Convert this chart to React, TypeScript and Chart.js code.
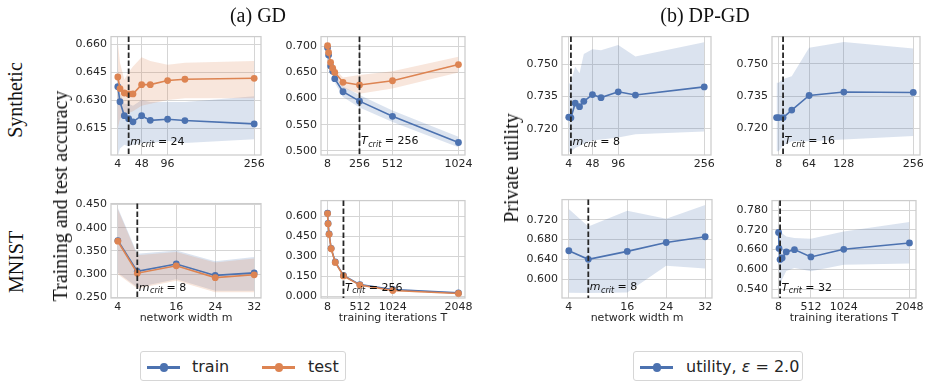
import React, { useEffect, useRef } from 'react';
import { Chart, registerables } from 'chart.js';

Chart.register(...registerables);

// ---------------- DATA ----------------
// (a) GD, Synthetic, network width m
const synWidthX = [4, 8, 16, 24, 32, 48, 64, 96, 128, 256];
const synWidthTrain = [0.6372, 0.6291, 0.6216, 0.6200, 0.6183, 0.6216, 0.6191, 0.6197, 0.6190, 0.6172];
const synWidthTrainUp = [0.648, 0.634, 0.628, 0.628, 0.627, 0.630, 0.629, 0.629, 0.629, 0.632];
const synWidthTrainLo = [0.600, 0.604, 0.606, 0.605, 0.606, 0.607, 0.607, 0.608, 0.607, 0.609];
const synWidthTest = [0.6424, 0.6362, 0.6338, 0.6333, 0.6333, 0.6383, 0.6383, 0.6405, 0.6412, 0.6417];
const synWidthTestUp = [0.661, 0.650, 0.641, 0.645, 0.648, 0.653, 0.651, 0.649, 0.650, 0.651];
const synWidthTestLo = [0.615, 0.620, 0.622, 0.623, 0.624, 0.627, 0.628, 0.630, 0.631, 0.631];

// (a) GD, Synthetic, training iterations T
const synIterX = [8, 16, 32, 48, 64, 128, 256, 512, 1024];
const synIterTrain = [0.697, 0.683, 0.662, 0.652, 0.638, 0.613, 0.595, 0.566, 0.516];
const synIterTrainUp = [0.700, 0.688, 0.668, 0.659, 0.646, 0.623, 0.607, 0.577, 0.527];
const synIterTrainLo = [0.694, 0.678, 0.656, 0.645, 0.630, 0.603, 0.583, 0.555, 0.507];
const synIterTest = [0.701, 0.688, 0.669, 0.658, 0.650, 0.631, 0.626, 0.634, 0.665];
const synIterTestUp = [0.705, 0.693, 0.676, 0.666, 0.658, 0.640, 0.645, 0.652, 0.680];
const synIterTestLo = [0.697, 0.683, 0.662, 0.650, 0.642, 0.620, 0.609, 0.619, 0.650];

// (a) GD, MNIST, network width m
const mnistWidthX = [4, 8, 16, 24, 32];
const mnistWidthTrain = [0.3725, 0.306, 0.322, 0.2973, 0.3027];
const mnistWidthTrainUp = [0.443, 0.344, 0.351, 0.328, 0.337];
const mnistWidthTrainLo = [0.303, 0.272, 0.289, 0.264, 0.264];
const mnistWidthTest = [0.371, 0.302, 0.318, 0.2925, 0.2986];
const mnistWidthTestUp = [0.440, 0.341, 0.348, 0.325, 0.334];
const mnistWidthTestLo = [0.300, 0.269, 0.286, 0.261, 0.261];

// (a) GD, MNIST, training iterations T
const mnistIterX = [8, 16, 32, 64, 128, 256, 512, 1024, 2048];
const mnistIterTrain = [0.625, 0.548, 0.469, 0.360, 0.257, 0.156, 0.0865, 0.050, 0.024];
const mnistIterTrainUp = [0.631, 0.554, 0.475, 0.366, 0.263, 0.162, 0.092, 0.055, 0.028];
const mnistIterTrainLo = [0.619, 0.542, 0.463, 0.354, 0.251, 0.150, 0.081, 0.045, 0.020];
const mnistIterTest = [0.622, 0.545, 0.466, 0.357, 0.254, 0.152, 0.083, 0.042, 0.020];
const mnistIterTestUp = [0.628, 0.551, 0.472, 0.363, 0.260, 0.158, 0.089, 0.047, 0.024];
const mnistIterTestLo = [0.616, 0.539, 0.460, 0.351, 0.248, 0.146, 0.077, 0.037, 0.016];

// (b) DP-GD, Synthetic, network width m
const dpSynWidthX = [4, 8, 16, 24, 32, 48, 64, 96, 128, 256];
const dpSynWidthUtil = [0.7254, 0.7251, 0.7319, 0.7303, 0.7328, 0.7359, 0.7345, 0.7372, 0.7357, 0.7395];
const dpSynWidthUp = [0.7406, 0.7420, 0.7489, 0.7459, 0.7548, 0.7570, 0.7566, 0.7590, 0.7536, 0.7603];
const dpSynWidthLo = [0.7093, 0.7093, 0.7110, 0.7120, 0.7130, 0.7145, 0.7150, 0.7160, 0.7175, 0.7187];

// (b) DP-GD, Synthetic, training iterations T
const dpSynIterX = [4, 8, 16, 32, 64, 128, 256];
const dpSynIterUtil = [0.7250, 0.7250, 0.7250, 0.7285, 0.7353, 0.7369, 0.7367];
const dpSynIterUp = [0.7412, 0.7412, 0.7430, 0.7443, 0.7575, 0.7602, 0.7572];
const dpSynIterLo = [0.7094, 0.7094, 0.7120, 0.7140, 0.7140, 0.7148, 0.7164];

// (b) DP-GD, MNIST, network width m
const dpMnistWidthX = [4, 8, 16, 24, 32];
const dpMnistWidthUtil = [0.6573, 0.6400, 0.6560, 0.6740, 0.6856];
const dpMnistWidthUp = [0.7413, 0.7060, 0.7380, 0.7220, 0.7496];
const dpMnistWidthLo = [0.5727, 0.5720, 0.5730, 0.6270, 0.6215];

// (b) DP-GD, MNIST, training iterations T
const dpMnistIterX = [8, 16, 32, 64, 128, 256, 512, 1024, 2048];
const dpMnistIterUtil = [0.7122, 0.6638, 0.6299, 0.6348, 0.6530, 0.6600, 0.6377, 0.6610, 0.6803];
const dpMnistIterUp = [0.735, 0.735, 0.730, 0.710, 0.700, 0.695, 0.693, 0.715, 0.744];
const dpMnistIterLo = [0.620, 0.600, 0.540, 0.570, 0.595, 0.604, 0.594, 0.614, 0.618];

// tick labels
const widthTicksLarge = [4, 48, 96, 256];
const widthTicksSmall = [4, 16, 24, 32];
const iterTicks1024 = [8, 256, 512, 1024];
const iterTicks2048 = [8, 512, 1024, 2048];
const iterTicks256 = [8, 64, 128, 256];
const synAccTicks = [0.615, 0.63, 0.645, 0.66];
const synIterAccTicks = [0.5, 0.55, 0.6, 0.65, 0.7];
const mnistWidthTicks = [0.25, 0.3, 0.35, 0.4, 0.45];
const mnistIterTicks = [0, 0.15, 0.3, 0.45, 0.6];
const dpSynTicks = [0.72, 0.735, 0.75];
const dpMnistWidthTicks = [0.6, 0.64, 0.68, 0.72];
const dpMnistIterTicks = [0.54, 0.6, 0.66, 0.72, 0.78];

// ---------------- STYLE / LAYOUT ----------------
const BLUE = '#4c72b0';
const ORANGE = '#dd8452';
const BLUE_BAND = 'rgba(76,114,176,0.2)';
const ORANGE_BAND = 'rgba(221,132,82,0.2)';
const TEXT = '#262626';
const GRID = '#d5d5d5';
const FONT = '"DejaVu Sans", sans-serif';

type Series = { color: string; band: string; ys: number[]; up: number[]; lo: number[] };
type PanelSpec = {
  rect: [number, number, number, number];
  xs: number[];
  series: Series[];
  xRange: [number, number];
  yRange: [number, number];
  xTicks: number[];
  yTicks: number[];
  vline: number;
  critVar: string;
  critVal: string;
  textOff: number;
  xTitle?: string;
};

const panels: PanelSpec[] = [
  {
    rect: [111, 32, 261, 155], xs: synWidthX,
    series: [
      { color: BLUE, band: BLUE_BAND, ys: synWidthTrain, up: synWidthTrainUp, lo: synWidthTrainLo },
      { color: ORANGE, band: ORANGE_BAND, ys: synWidthTest, up: synWidthTestUp, lo: synWidthTestLo },
    ],
    xRange: [-8.6, 268.6], yRange: [0.6005, 0.6641], xTicks: widthTicksLarge, yTicks: synAccTicks,
    vline: 24, critVar: 'm', critVal: '24', textOff: 10.5,
  },
  {
    rect: [321, 32, 465, 155], xs: synIterX,
    series: [
      { color: BLUE, band: BLUE_BAND, ys: synIterTrain, up: synIterTrainUp, lo: synIterTrainLo },
      { color: ORANGE, band: ORANGE_BAND, ys: synIterTest, up: synIterTestUp, lo: synIterTestLo },
    ],
    xRange: [-42.8, 1074.8], yRange: [0.4921, 0.7184], xTicks: iterTicks1024, yTicks: synIterAccTicks,
    vline: 256, critVar: 'T', critVal: '256', textOff: 11,
  },
  {
    rect: [111, 199, 261, 298], xs: mnistWidthX,
    series: [
      { color: BLUE, band: BLUE_BAND, ys: mnistWidthTrain, up: mnistWidthTrainUp, lo: mnistWidthTrainLo },
      { color: ORANGE, band: ORANGE_BAND, ys: mnistWidthTest, up: mnistWidthTestUp, lo: mnistWidthTestLo },
    ],
    xRange: [2.6, 33.4], yRange: [0.2486, 0.4521], xTicks: widthTicksSmall, yTicks: mnistWidthTicks,
    vline: 8, critVar: 'm', critVal: '8', textOff: 7.5, xTitle: 'network width m',
  },
  {
    rect: [321, 196, 465, 298], xs: mnistIterX,
    series: [
      { color: BLUE, band: BLUE_BAND, ys: mnistIterTrain, up: mnistIterTrainUp, lo: mnistIterTrainLo },
      { color: ORANGE, band: ORANGE_BAND, ys: mnistIterTest, up: mnistIterTestUp, lo: mnistIterTestLo },
    ],
    xRange: [-94, 2150], yRange: [-0.0144, 0.7202], xTicks: iterTicks2048, yTicks: mnistIterTicks,
    vline: 256, critVar: 'T', critVal: '256', textOff: 7.5, xTitle: 'training iterations T',
  },
  {
    rect: [562, 32, 711, 155], xs: dpSynWidthX,
    series: [{ color: BLUE, band: BLUE_BAND, ys: dpSynWidthUtil, up: dpSynWidthUp, lo: dpSynWidthLo }],
    xRange: [-8.6, 268.6], yRange: [0.7078, 0.7629], xTicks: widthTicksLarge, yTicks: dpSynTicks,
    vline: 8, critVar: 'm', critVal: '8', textOff: 10.5,
  },
  {
    rect: [772, 32, 920, 155], xs: dpSynIterX,
    series: [{ color: BLUE, band: BLUE_BAND, ys: dpSynIterUtil, up: dpSynIterUp, lo: dpSynIterLo }],
    xRange: [-4.4, 268.4], yRange: [0.7076, 0.7627], xTicks: iterTicks256, yTicks: dpSynTicks,
    vline: 16, critVar: 'T', critVal: '16', textOff: 11,
  },
  {
    rect: [562, 195, 712, 298], xs: dpMnistWidthX,
    series: [{ color: BLUE, band: BLUE_BAND, ys: dpMnistWidthUtil, up: dpMnistWidthUp, lo: dpMnistWidthLo }],
    xRange: [2.6, 33.4], yRange: [0.562, 0.7605], xTicks: widthTicksSmall, yTicks: dpMnistWidthTicks,
    vline: 8, critVar: 'm', critVal: '8', textOff: 8, xTitle: 'network width m',
  },
  {
    rect: [772, 196, 916, 298], xs: dpMnistIterX,
    series: [{ color: BLUE, band: BLUE_BAND, ys: dpMnistIterUtil, up: dpMnistIterUp, lo: dpMnistIterLo }],
    xRange: [-94, 2150], yRange: [0.513, 0.809], xTicks: iterTicks2048, yTicks: dpMnistIterTicks,
    vline: 32, critVar: 'T', critVal: '32', textOff: 7.5, xTitle: 'training iterations T',
  },
];

const YW = 50;
const PT = 6;
const PR = 16;

function Panel({ spec }: { spec: PanelSpec }) {
  const ref = useRef<HTMLCanvasElement | null>(null);
  const [l, t, r, b] = spec.rect;
  const XH = spec.xTitle ? 27 : 20;
  const w = r - l + YW + PR;
  const h = b - t + PT + XH;

  useEffect(() => {
    const canvas = ref.current;
    if (!canvas) return;
    const pts = (ys: number[]) => spec.xs.map((x, i) => ({ x, y: ys[i] }));
    const n = spec.series.length;
    const datasets: any[] = [];
    // bands (drawn first: higher order values are drawn underneath)
    spec.series.forEach((s, k) => {
      datasets.push({
        data: pts(s.lo), borderWidth: 0, pointRadius: 0, fill: false, borderColor: 'transparent',
        order: 100 - k,
      });
      datasets.push({
        data: pts(s.up), borderWidth: 0, pointRadius: 0, fill: '-1', backgroundColor: s.band,
        borderColor: 'transparent', order: 100 - k,
      });
    });
    // lines: later series on top
    spec.series.forEach((s, k) => {
      datasets.push({
        data: pts(s.ys), borderColor: s.color, backgroundColor: s.color, borderWidth: 1.6,
        pointRadius: 3.4, pointBorderWidth: 0, pointBackgroundColor: s.color, fill: false,
        order: n - k,
      });
    });

    const deco = {
      id: 'deco',
      afterDatasetsDraw(chart: any) {
        const { ctx, chartArea: a, scales } = chart;
        ctx.save();
        ctx.strokeStyle = '#cccccc';
        ctx.lineWidth = 1.25;
        ctx.strokeRect(a.left, a.top, a.right - a.left, a.bottom - a.top);
        const px = scales.x.getPixelForValue(spec.vline);
        ctx.setLineDash([5.5, 2.5]);
        ctx.strokeStyle = '#262626';
        ctx.lineWidth = 1.8;
        ctx.beginPath();
        ctx.moveTo(px, a.top);
        ctx.lineTo(px, a.bottom);
        ctx.stroke();
        ctx.setLineDash([]);
        const y = a.bottom - spec.textOff;
        let x = px + 1.5;
        ctx.fillStyle = '#111';
        ctx.textBaseline = 'alphabetic';
        ctx.textAlign = 'left';
        ctx.font = `italic 11px ${FONT}`;
        ctx.fillText(spec.critVar, x, y);
        x += ctx.measureText(spec.critVar).width + 0.5;
        ctx.font = `italic 8px ${FONT}`;
        ctx.fillText('crit', x, y + 2.5);
        x += ctx.measureText('crit').width;
        ctx.font = `11px ${FONT}`;
        ctx.fillText(' = ' + spec.critVal, x, y);
        ctx.restore();
      },
    };

    const chart = new Chart(canvas, {
      type: 'line',
      data: { datasets },
      options: {
        animation: false,
        responsive: false,
        maintainAspectRatio: false,
        devicePixelRatio: 1,
        layout: { padding: { top: PT, right: PR, left: 0, bottom: 0 } },
        plugins: { legend: { display: false }, tooltip: { enabled: false } },
        scales: {
          x: {
            type: 'linear',
            position: 'bottom',
            min: spec.xRange[0],
            max: spec.xRange[1],
            grid: { color: GRID, lineWidth: 1, drawTicks: false },
            border: { display: false },
            ticks: {
              font: { family: FONT, size: 11 },
              color: TEXT,
              padding: 3,
              autoSkip: false,
              maxRotation: 0,
              callback: (v: any) => String(v),
            },
            afterBuildTicks: (s: any) => { s.ticks = spec.xTicks.map((v) => ({ value: v })); },
            afterFit: (s: any) => { s.height = XH; },
            title: {
              display: !!spec.xTitle,
              text: spec.xTitle || '',
              font: { family: FONT, size: 11 },
              color: TEXT,
              padding: { top: 0, bottom: 0 },
            },
          },
          y: {
            type: 'linear',
            min: spec.yRange[0],
            max: spec.yRange[1],
            grid: { color: GRID, lineWidth: 1, drawTicks: false },
            border: { display: false },
            ticks: {
              font: { family: FONT, size: 11 },
              color: TEXT,
              padding: 4,
              autoSkip: false,
              callback: (v: any) => Number(v).toFixed(3),
            },
            afterBuildTicks: (s: any) => { s.ticks = spec.yTicks.map((v) => ({ value: v })); },
            afterFit: (s: any) => { s.width = YW; },
          },
        },
      } as any,
      plugins: [deco],
    });
    return () => chart.destroy();
  }, []);

  return (
    <canvas
      ref={ref}
      width={w}
      height={h}
      style={{ position: 'absolute', left: l - YW, top: t - PT, width: w, height: h }}
    />
  );
}

const serif = '"Liberation Serif", "Times New Roman", serif';

function VLabel({ text, x, y }: { text: string; x: number; y: number }) {
  return (
    <div
      style={{
        position: 'absolute', left: x, top: y, transform: 'translate(-50%, -50%) rotate(-90deg)',
        fontFamily: serif, fontSize: 20, color: '#111', whiteSpace: 'nowrap', lineHeight: '22px',
      }}
    >
      {text}
    </div>
  );
}

function HLabel({ text, x, y }: { text: string; x: number; y: number }) {
  return (
    <div
      style={{
        position: 'absolute', left: x, top: y, transform: 'translate(-50%, -50%)',
        fontFamily: serif, fontSize: 20, color: '#111', whiteSpace: 'nowrap', lineHeight: '22px',
      }}
    >
      {text}
    </div>
  );
}

function LegendMark({ color, left }: { color: string; left: number }) {
  return (
    <div style={{ position: 'absolute', left, top: 14, width: 33, height: 2.6, background: color }}>
      <div
        style={{
          position: 'absolute', left: 12.5, top: -3, width: 8.5, height: 8.5, borderRadius: '50%', background: color,
        }}
      />
    </div>
  );
}

const legendText: React.CSSProperties = {
  position: 'absolute', top: 5, fontFamily: FONT, fontSize: 16, color: TEXT, whiteSpace: 'nowrap', lineHeight: '20px',
};

export default function App() {
  return (
    <div
      style={{
        position: 'absolute', left: 0, top: 0, width: 930, height: 388, background: '#fff', overflow: 'hidden',
      }}
    >
      {panels.map((p, i) => (
        <Panel key={i} spec={p} />
      ))}
      <HLabel text="(a) GD" x={258} y={15} />
      <HLabel text="(b) DP-GD" x={705} y={15} />
      <VLabel text="Synthetic" x={15} y={100} />
      <VLabel text="MNIST" x={16} y={262} />
      <VLabel text="Training and test accuracy" x={60} y={196} />
      <VLabel text="Private utility" x={511} y={168} />

      <div
        style={{
          position: 'absolute', left: 140, top: 351, width: 206, height: 30, border: '1px solid #d6d6d6',
          borderRadius: 3, boxSizing: 'border-box',
        }}
      >
        <LegendMark color={BLUE} left={6} />
        <div style={{ ...legendText, left: 51 }}>train</div>
        <LegendMark color={ORANGE} left={121} />
        <div style={{ ...legendText, left: 167 }}>test</div>
      </div>

      <div
        style={{
          position: 'absolute', left: 633, top: 351, width: 170, height: 30, border: '1px solid #d6d6d6',
          borderRadius: 3, boxSizing: 'border-box',
        }}
      >
        <LegendMark color={BLUE} left={6} />
        <div style={{ ...legendText, left: 52 }}>
          utility, <i>ε</i> = 2.0
        </div>
      </div>
    </div>
  );
}
